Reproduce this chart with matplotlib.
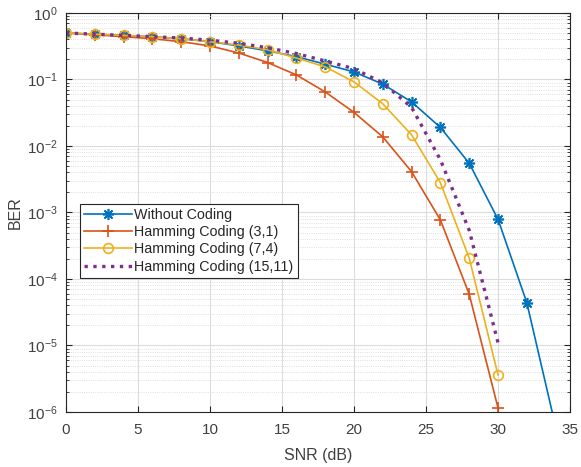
import matplotlib
matplotlib.use("Agg")
import matplotlib.pyplot as plt
from matplotlib.ticker import FixedLocator, NullFormatter
import numpy as np

plt.rcParams["font.family"] = ["Liberation Sans", "DejaVu Sans"]
plt.rcParams["mathtext.fontset"] = "custom"
plt.rcParams["mathtext.rm"] = "Liberation Sans"

snr = np.arange(0, 31, 2)
snr_uncoded = np.arange(0, 35, 2)

ber_uncoded = [0.5, 0.48, 0.46, 0.44, 0.41, 0.37, 0.32, 0.27, 0.22, 0.17,
               0.13, 0.085, 0.046, 0.019, 0.0055, 7.9e-4, 4.4e-5, 6e-7]
ber_h31 = [0.5, 0.47, 0.44, 0.41, 0.37, 0.32, 0.25, 0.18, 0.117, 0.065,
           0.032, 0.0137, 0.0041, 7.7e-4, 5.9e-5, 1.15e-6]
ber_h74 = [0.5, 0.48, 0.46, 0.44, 0.41, 0.37, 0.33, 0.28, 0.21, 0.155,
           0.092, 0.043, 0.0147, 0.0028, 2.06e-4, 3.6e-6]
ber_h1511 = [0.5, 0.48, 0.46, 0.44, 0.42, 0.39, 0.35, 0.30, 0.245, 0.19,
             0.145, 0.089, 0.038, 0.0062, 5.4e-4, 1.1e-5]

labels = ["Without Coding", "Hamming Coding (3,1)",
          "Hamming Coding (7,4)", "Hamming Coding (15,11)"]

fig = plt.figure(figsize=(5.81, 4.67), dpi=100)
ax = fig.add_axes([0.1136, 0.1178, 0.8675, 0.8544])

# (8, 2, 0) -> eight-spoke asterisk marker
ax.semilogy(snr_uncoded, ber_uncoded, color="#0072BD", marker=(8, 2, 0),
            markersize=8, mew=1.2, lw=1.2, label=labels[0])
ax.semilogy(snr, ber_h31, color="#D95319", marker="+",
            markersize=8, mew=1.2, lw=1.2, label=labels[1])
ax.semilogy(snr, ber_h74, color="#EDB120", marker="o", mfc="none",
            markersize=7, mew=1.2, lw=1.2, label=labels[2])
ax.semilogy(snr, ber_h1511, color="#7E2F8E", ls=":", lw=2.4,
            label=labels[3])

ax.set_xlim(0, 35)
ax.set_ylim(1e-6, 1)
ax.set_xticks(np.arange(0, 36, 5))
decades = np.arange(-6, 1)
ax.set_yticks(10.0 ** decades)
minor = [m * 10.0 ** d for d in decades[:-1] for m in range(2, 10)]
ax.yaxis.set_minor_locator(FixedLocator(minor))
ax.yaxis.set_minor_formatter(NullFormatter())

ax.grid(True, which="major", color="#dcdcdc", lw=0.8)
ax.grid(True, which="minor", axis="y", color="#d4d4d4", lw=0.6, ls=":")
ax.set_axisbelow(True)

ax.tick_params(which="both", direction="in", top=True, right=True,
               labelsize=11, colors="#262626", labelcolor="#404040")
ax.tick_params(which="major", length=4)
ax.tick_params(which="minor", length=2)
ax.tick_params(axis="x", pad=8)
ax.tick_params(axis="y", pad=6)
for s in ax.spines.values():
    s.set_color("#262626")
    s.set_linewidth(0.8)

ax.set_xlabel("SNR (dB)", fontsize=11.5, color="#404040", labelpad=8)
ax.set_ylabel("BER", fontsize=11.5, color="#404040", labelpad=3)

leg = ax.legend(loc="lower left", bbox_to_anchor=(0.028, 0.336),
                borderaxespad=0, fontsize=10.3, fancybox=False,
                framealpha=1, edgecolor="#262626", handlelength=3.3,
                borderpad=0.3, labelspacing=0.22, handletextpad=0.2)
leg.get_frame().set_linewidth(0.8)
for t in leg.get_texts():
    t.set_color("#262626")

fig.savefig("out.png", dpi=100)
